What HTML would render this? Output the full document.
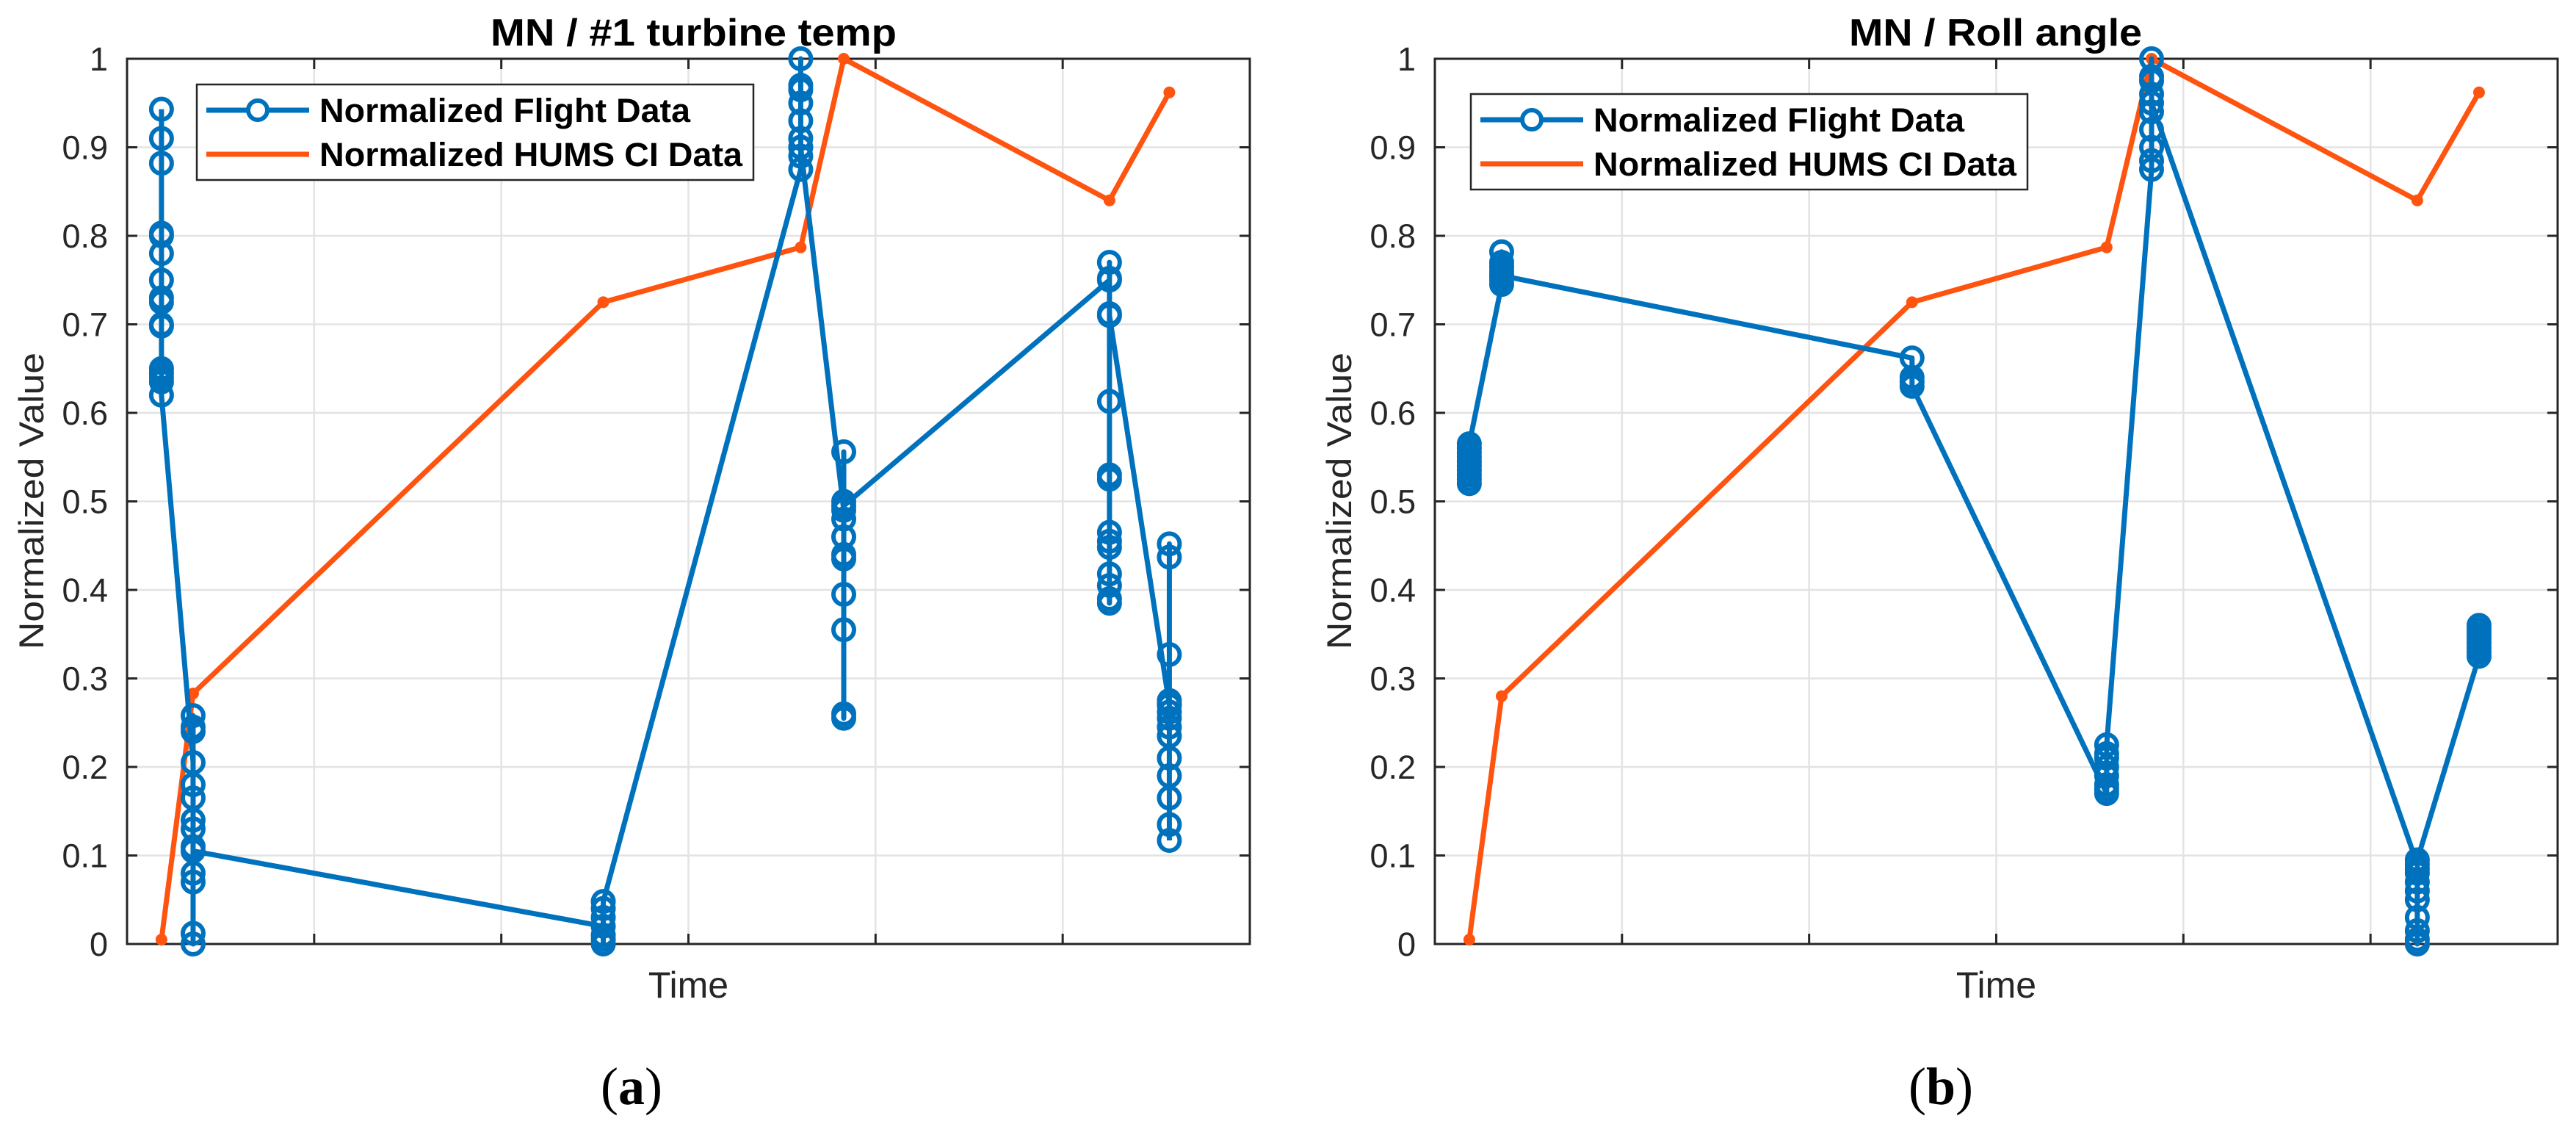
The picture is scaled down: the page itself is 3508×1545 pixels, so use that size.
<!DOCTYPE html>
<html><head><meta charset="utf-8">
<style>
html,body{margin:0;padding:0;background:#fff;}
svg{display:block;}
text{font-family:"Liberation Sans",Arial,sans-serif;}
</style></head>
<body>
<svg id="fig" width="3508" height="1545" viewBox="0 0 3508 1545" xmlns="http://www.w3.org/2000/svg"></svg>
<script>
// ---- data ----
const yTicks = [0,0.1,0.2,0.3,0.4,0.5,0.6,0.7,0.8,0.9,1];
const yTickLabels = ["0","0.1","0.2","0.3","0.4","0.5","0.6","0.7","0.8","0.9","1"];
const xTicks = [1,2,3,4,5];
const clusterTimesA = [0.184,0.353,2.545,3.6,3.83,5.25,5.57];
const humsA = [0.005,0.283,0.725,0.787,1.0,0.84,0.962];
const flightA1 = [0.943,0.91,0.882,0.803,0.80,0.78,0.75,0.73,0.725,0.70,0.698,0.65,0.645,0.64,0.635,0.62];
const flightA2 = [0.205,0.258,0.245,0.24,0.18,0.165,0.14,0.13,0.11,0.08,0.07,0.012,0.0,0.105];
const flightA3 = [0.02,0.0,0.005,0.01,0.03,0.04,0.048];
const flightA4 = [0.875,0.89,0.9,0.91,0.93,0.95,0.965,0.97,1.0,0.9];
const flightA5 = [0.49,0.556,0.5,0.48,0.46,0.44,0.435,0.395,0.355,0.26,0.255,0.495];
const flightA6 = [0.75,0.77,0.752,0.712,0.613,0.53,0.525,0.465,0.455,0.448,0.418,0.405,0.39,0.385,0.71];
const flightA7 = [0.27,0.452,0.437,0.327,0.275,0.27,0.262,0.255,0.245,0.235,0.21,0.19,0.165,0.135,0.117];
const clusterTimesB = [0.184,0.357,2.55,3.59,3.83,5.25,5.58];
const humsB = [0.005,0.28,0.725,0.787,1.0,0.84,0.962];
const flightB1 = [0.52,0.525,0.53,0.535,0.54,0.545,0.55,0.555,0.56,0.565];
const flightB2 = [0.745,0.75,0.755,0.76,0.765,0.77,0.782,0.755];
const flightB3 = [0.662,0.64,0.635,0.63];
const flightB4 = [0.17,0.175,0.18,0.19,0.2,0.21,0.215,0.225];
const flightB5 = [0.875,0.885,0.9,0.92,0.94,0.96,0.975,0.98,1.0,0.95];
const flightB6 = [0.09,0.0,0.005,0.015,0.03,0.05,0.06,0.07,0.08,0.085,0.095];
const flightB7 = [0.325,0.33,0.335,0.34,0.345,0.35,0.355,0.36];

const NS = "http://www.w3.org/2000/svg";
const svg = document.getElementById('fig');
function mk(tag, attrs, parent){
  const e = document.createElementNS(NS, tag);
  for (const k in attrs) e.setAttribute(k, attrs[k]);
  (parent||svg).appendChild(e);
  return e;
}
const BLUE = "#0072BD", ORANGE = "#FF5310";

function panel(opts){
  const L = opts.left, R = L + 1529, T = 80, B = 1285;
  const xs = t => L + t * (R - L) / 6;
  const ys = v => B - v * (B - T);
  const g = mk('g', {});
  
  
  yTicks.forEach((v,i) => {
    if (v > 0 && v < 1) {
      const l = mk('line', {x1:L, x2:R, y1:ys(v), y2:ys(v), stroke:'#e3e3e3', 'stroke-width':2.5}, g);
      
      
    }
  });
  xTicks.forEach(t => {
    const l = mk('line', {x1:xs(t), x2:xs(t), y1:T, y2:B, stroke:'#e3e3e3', 'stroke-width':2.5}, g);
    
    
  });
  yTicks.forEach((v,i) => {
    const a = mk('line', {x1:L, x2:L+14, y1:ys(v), y2:ys(v), stroke:'#262626', 'stroke-width':3}, g);
    
    
    const b = mk('line', {x1:R, x2:R-14, y1:ys(v), y2:ys(v), stroke:'#262626', 'stroke-width':3}, g);
    
    
    const tx = mk('text', {x:L-26, y:ys(v)+16, 'text-anchor':'end', 'font-size':45, fill:'#262626'}, g);
    tx.textContent = yTickLabels[i];
    
    
  });
  xTicks.forEach(t => {
    const a = mk('line', {x1:xs(t), x2:xs(t), y1:B, y2:B-14, stroke:'#262626', 'stroke-width':3}, g);
    
    
    const b = mk('line', {x1:xs(t), x2:xs(t), y1:T, y2:T+14, stroke:'#262626', 'stroke-width':3}, g);
    
    
  });
  const box = mk('rect', {x:L, y:T, width:R-L, height:B-T, fill:'none', stroke:'#262626', 'stroke-width':3}, g);
  
  
  const hp = opts.times.map((t,i) => xs(t)+','+ys(opts.hums[i])).join(' ');
  const hl = mk('polyline', {points:hp, fill:'none', stroke:ORANGE, 'stroke-width':7, 'stroke-linejoin':'round'}, g);
  
  
  opts.times.forEach((t,i) => {
    const c = mk('circle', {cx:xs(t), cy:ys(opts.hums[i]), r:8, fill:ORANGE}, g);
    
    
  });
  const pts = [];
  opts.flight.forEach((cl,ci) => cl.forEach(v => pts.push([xs(opts.times[ci]), ys(v)])));
  const fl = mk('polyline', {points:pts.map(p=>p[0]+','+p[1]).join(' '), fill:'none', stroke:BLUE, 'stroke-width':7, 'stroke-linejoin':'round'}, g);
  
  
  pts.forEach(p => {
    const c = mk('circle', {cx:p[0], cy:p[1], r:14, fill:'none', stroke:BLUE, 'stroke-width':6}, g);
    
    
  });
  const ti = mk('text', {x:opts.titleX, y:62, 'font-size':52, 'font-weight':'bold', fill:'#000', textLength:opts.titleW, lengthAdjust:'spacingAndGlyphs'}, g);
  ti.textContent = opts.title;
  
  
  const xl = mk('text', {x:(L+R)/2, y:1358, 'text-anchor':'middle', 'font-size':50, fill:'#262626'}, g);
  xl.textContent = 'Time';
  
  
  const yl = mk('text', {x:0, y:0, 'text-anchor':'middle', 'font-size':47, fill:'#262626', transform:'translate('+(opts.ylabX+17)+',682) rotate(-90)', textLength:404, lengthAdjust:'spacingAndGlyphs'}, g);
  yl.textContent = 'Normalized Value';
  
  
  const lg = mk('g', {}, g);
  
  
  const lx = opts.legX, ly = opts.legY;
  const lr = mk('rect', {x:lx, y:ly, width:758, height:130, fill:'#fff', stroke:'#262626', 'stroke-width':2.5}, lg);
  
  
  const e1 = mk('line', {x1:lx+13, x2:lx+153, y1:ly+35, y2:ly+35, stroke:BLUE, 'stroke-width':7}, lg);
  
  
  const e1c = mk('circle', {cx:lx+83, cy:ly+35, r:13, fill:'#fff', stroke:BLUE, 'stroke-width':6}, lg);
  
  
  const t1 = mk('text', {x:lx+167, y:ly+51, 'font-size':45, 'font-weight':'bold', fill:'#000', textLength:505, lengthAdjust:'spacingAndGlyphs'}, lg);
  t1.textContent = 'Normalized Flight Data';
  
  
  const e2 = mk('line', {x1:lx+13, x2:lx+153, y1:ly+95, y2:ly+95, stroke:ORANGE, 'stroke-width':7}, lg);
  
  
  const t2 = mk('text', {x:lx+167, y:ly+111, 'font-size':45, 'font-weight':'bold', fill:'#000', textLength:576, lengthAdjust:'spacingAndGlyphs'}, lg);
  t2.textContent = 'Normalized HUMS CI Data';
  
  
  const cap = mk('text', {x:opts.capX, y:1503, 'text-anchor':'middle', 'font-size':72, fill:'#000', style:'font-family:"Liberation Serif",serif'}, g);
  cap.innerHTML = '(<tspan font-weight="bold">' + opts.cap + '</tspan>)';
  
  
}

panel({name:'panel-a', left:173, times:clusterTimesA, hums:humsA,
  flight:[flightA1,flightA2,flightA3,flightA4,flightA5,flightA6,flightA7],
  title:'MN / #1 turbine temp', titleX:668, titleW:553, ylabX:42, legX:268, legY:115, capX:860, cap:'a'});
panel({name:'panel-b', left:1954, times:clusterTimesB, hums:humsB,
  flight:[flightB1,flightB2,flightB3,flightB4,flightB5,flightB6,flightB7],
  title:'MN / Roll angle', titleX:2518, titleW:399, ylabX:1823, legX:2003, legY:128, capX:2643, cap:'b'});
</script>
</body></html>
